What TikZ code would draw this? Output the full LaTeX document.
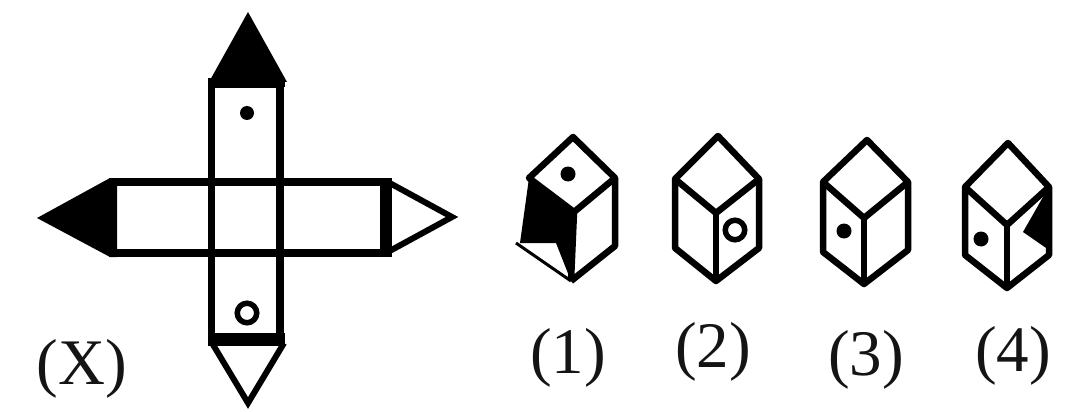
\documentclass[tikz,border=0pt]{standalone}
\usepackage{fontspec}
\setmainfont{Liberation Serif}
\tikzset{
  ink/.style={draw=black,line width=7.5pt,line join=miter,miter limit=3},
  thin ink/.style={draw=black,line width=6.5pt,line join=round},
  lbl/.style={font=\fontsize{65}{65}\selectfont,text=black!92,inner sep=0pt},
  ring/.style={draw=black,line width=5.5pt,fill=white,circle,minimum size=19.5pt,inner sep=0pt},
  dot/.style={fill=black,circle,inner sep=0pt,minimum size=15pt}
}
\newcommand{\cubeframe}[7]{%
  % top, left, right, centre, bottom, lowerleft, lowerright
  \draw[thin ink] #1 -- #2 -- #6 -- #5 -- #7 -- #3 -- cycle;
  \draw[thin ink] #2 -- #4 -- #3;
  \draw[thin ink] #4 -- #5;
}
\begin{document}
\begin{tikzpicture}[x=1pt,y=-1pt]
\useasboundingbox[fill=white] (0,0) rectangle (1069,412);
% cross net
\fill[black] (248,12) -- (287,82) -- (209,82) -- cycle;
\draw[ink] (211.5,84) rectangle (280,337);
\draw[ink] (113,182) rectangle (385,253);
\draw[ink] (211.5,182) -- (211.5,253);
\draw[ink] (280,182) -- (280,253);
\fill[black] (208,78) rectangle (285,87);
\fill[black] (208,333) rectangle (285,346);
\fill[black] (37,218) -- (110,178) -- (117,178) -- (117,257) -- (110,257) -- cycle;
\fill[black] (380,178) rectangle (392,257);
\draw[ink,line width=6pt] (386,181) -- (452,217) -- (386,253);
\draw[ink,line width=6pt] (212,343) -- (248,403) -- (284,343);
\node[dot,minimum size=14pt] (d0) at (247,113) {};
\node[ring] (r0) at (247,313) {};
% cube 1
\fill[black] (529,178) -- (574,212) -- (571,281) -- (556,243) -- (520,243) -- cycle;
\draw[line width=3pt] (516,243) -- (571,281);
\draw[thin ink] (529,178) -- (573,137) -- (615,178) -- (574,212) -- cycle;
\draw[thin ink] (615,178) -- (615,246) -- (571,281);
\draw[thin ink] (574,212) -- (571,281);
\node[dot] (d1) at (568,174) {};
% cube 2
\cubeframe{(718,136)}{(675,179)}{(759,179)}{(716,213)}{(716,281)}{(675,248)}{(759,248)}
\node[ring] (r2) at (735,230) {};
% cube 3
\cubeframe{(867,140)}{(823,182)}{(908,182)}{(864,218)}{(864,284)}{(823,252)}{(908,250)}
\node[dot] (d3) at (844,231) {};
% cube 4
\fill[black] (1047,190) -- (1023,232) -- (1049,250) -- cycle;
\cubeframe{(1008,143)}{(965,187)}{(1049,187)}{(1007,225)}{(1007,288)}{(965,255)}{(1049,255)}
\node[dot] (d4) at (981,239) {};
% labels
\node[lbl] (lx) at (82,369) {(X)};
\node[lbl] (l1) at (568,358) {(1)};
\node[lbl] (l2) at (713,352) {(2)};
\node[lbl] (l3) at (866,360) {(3)};
\node[lbl] (l4) at (1013,356) {(4)};
\end{tikzpicture}
\end{document}
